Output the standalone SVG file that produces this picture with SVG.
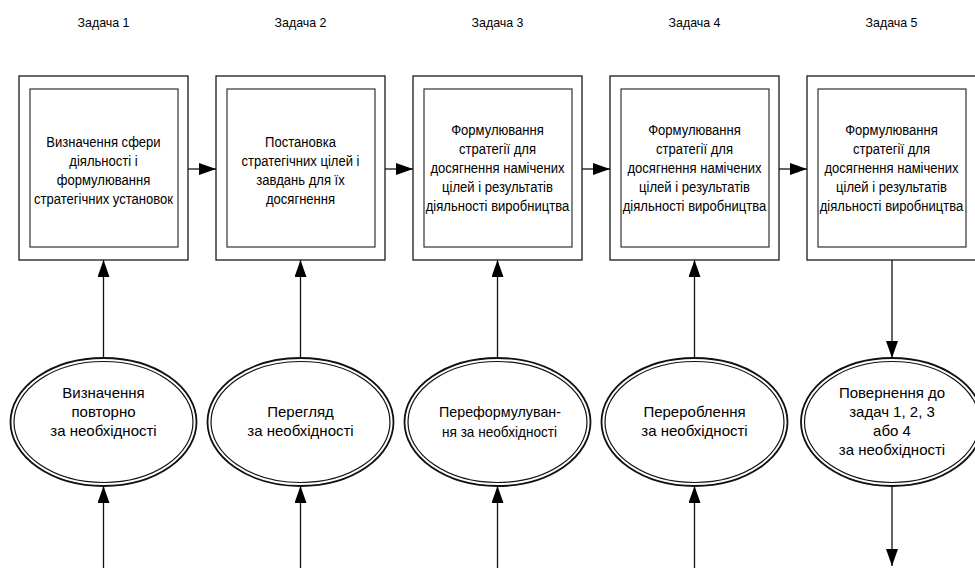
<svg xmlns="http://www.w3.org/2000/svg" width="975" height="568" viewBox="0 0 975 568">
<style>
.bg{fill:#fff}
.outer{fill:#fff;stroke:#1a1a1a;stroke-width:1.3}
.inner{fill:#fff;stroke:#333;stroke-width:1.2}
.eo{fill:#fff;stroke:#111;stroke-width:1.8}
.ei{fill:none;stroke:#111;stroke-width:1.2}
.lbl{font-family:"Liberation Sans",Arial,sans-serif;font-size:13.5px;fill:#000;text-anchor:middle}
.bt{font-family:"Liberation Sans",Arial,sans-serif;font-size:14.5px;fill:#000;text-anchor:middle}
.et{font-family:"Liberation Sans",Arial,sans-serif;font-size:15px;fill:#000;text-anchor:middle}
.c{stroke:#111;stroke-width:1.3;fill:none;marker-end:url(#ah)}
</style>
<defs>
<marker id="ah" markerUnits="userSpaceOnUse" markerWidth="18" markerHeight="12" refX="17" refY="6" orient="auto">
<path d="M0,0 L17,6 L0,12 Z" fill="#000"/>
</marker>
</defs>
<rect class="bg" x="0" y="0" width="975" height="568"/>

<g id="labels">
<text class="lbl" transform="translate(103.5,27) scale(0.92,1)">Задача 1</text>
<text class="lbl" transform="translate(300.5,27) scale(0.92,1)">Задача 2</text>
<text class="lbl" transform="translate(497.5,27) scale(0.92,1)">Задача 3</text>
<text class="lbl" transform="translate(694.5,27) scale(0.92,1)">Задача 4</text>
<text class="lbl" transform="translate(891.5,27) scale(0.92,1)">Задача 5</text>
</g>

<g id="box1">
<rect class="outer" x="19" y="76" width="169" height="184"/>
<rect class="inner" x="30" y="89" width="148" height="158"/>
<g transform="translate(103.5,0) scale(0.9,1)">
<text class="bt" x="0" y="147">Визначення сфери</text>
<text class="bt" x="0" y="166">діяльності і</text>
<text class="bt" x="0" y="185">формулювання</text>
<text class="bt" x="0" y="204">стратегічних установок</text>
</g>
</g>
<g id="box2">
<rect class="outer" x="216" y="76" width="169" height="184"/>
<rect class="inner" x="227" y="89" width="148" height="158"/>
<g transform="translate(300.5,0) scale(0.9,1)">
<text class="bt" x="0" y="147">Постановка</text>
<text class="bt" x="0" y="166">стратегічних цілей і</text>
<text class="bt" x="0" y="185">завдань для їх</text>
<text class="bt" x="0" y="204">досягнення</text>
</g>
</g>
<g id="box3">
<rect class="outer" x="413" y="76" width="169" height="184"/>
<rect class="inner" x="424" y="89" width="148" height="158"/>
<g transform="translate(497.5,0) scale(0.9,1)">
<text class="bt" x="0" y="135">Формулювання</text>
<text class="bt" x="0" y="154">стратегії для</text>
<text class="bt" x="0" y="173">досягнення намічених</text>
<text class="bt" x="0" y="192">цілей і результатів</text>
<text class="bt" x="0" y="211">діяльності виробництва</text>
</g>
</g>
<g id="box4">
<rect class="outer" x="610" y="76" width="169" height="184"/>
<rect class="inner" x="621" y="89" width="148" height="158"/>
<g transform="translate(694.5,0) scale(0.9,1)">
<text class="bt" x="0" y="135">Формулювання</text>
<text class="bt" x="0" y="154">стратегії для</text>
<text class="bt" x="0" y="173">досягнення намічених</text>
<text class="bt" x="0" y="192">цілей і результатів</text>
<text class="bt" x="0" y="211">діяльності виробництва</text>
</g>
</g>
<g id="box5">
<rect class="outer" x="807" y="76" width="169" height="184"/>
<rect class="inner" x="818" y="89" width="148" height="158"/>
<g transform="translate(891.5,0) scale(0.9,1)">
<text class="bt" x="0" y="135">Формулювання</text>
<text class="bt" x="0" y="154">стратегії для</text>
<text class="bt" x="0" y="173">досягнення намічених</text>
<text class="bt" x="0" y="192">цілей і результатів</text>
<text class="bt" x="0" y="211">діяльності виробництва</text>
</g>
</g>

<g id="ellipse1">
<ellipse class="eo" cx="103.5" cy="422" rx="93" ry="64"/>
<ellipse class="ei" cx="103.5" cy="422" rx="89.5" ry="60.5"/>
<text class="et" x="103.5" y="398">Визначення</text>
<text class="et" x="103.5" y="417">повторно</text>
<text class="et" x="103.5" y="436">за необхідності</text>
</g>
<g id="ellipse2">
<ellipse class="eo" cx="300.5" cy="422" rx="93" ry="64"/>
<ellipse class="ei" cx="300.5" cy="422" rx="89.5" ry="60.5"/>
<text class="et" x="300.5" y="417">Перегляд</text>
<text class="et" x="300.5" y="436">за необхідності</text>
</g>
<g id="ellipse3">
<ellipse class="eo" cx="497.5" cy="422" rx="93" ry="64"/>
<ellipse class="ei" cx="497.5" cy="422" rx="89.5" ry="60.5"/>
<text class="et" x="500" y="417" textLength="122" lengthAdjust="spacingAndGlyphs">Переформулуван-</text>
<text class="et" x="499.5" y="437" textLength="115" lengthAdjust="spacingAndGlyphs">ня за необхідності</text>
</g>
<g id="ellipse4">
<ellipse class="eo" cx="694.5" cy="422" rx="93" ry="64"/>
<ellipse class="ei" cx="694.5" cy="422" rx="89.5" ry="60.5"/>
<text class="et" x="694.5" y="417">Перероблення</text>
<text class="et" x="694.5" y="436">за необхідності</text>
</g>
<g id="ellipse5">
<ellipse class="eo" cx="892" cy="422" rx="91" ry="64"/>
<ellipse class="ei" cx="892" cy="422" rx="87.5" ry="60.5"/>
<text class="et" x="892" y="398">Повернення до</text>
<text class="et" x="892" y="417">задач 1, 2, 3</text>
<text class="et" x="892" y="436">або 4</text>
<text class="et" x="892" y="455">за необхідності</text>
</g>

<g id="connectors">
<line class="c" x1="188" y1="169" x2="216" y2="169"/>
<line class="c" x1="385" y1="169" x2="413" y2="169"/>
<line class="c" x1="582" y1="169" x2="610" y2="169"/>
<line class="c" x1="779" y1="169" x2="807" y2="169"/>
<line class="c" x1="103.5" y1="358" x2="103.5" y2="260"/>
<line class="c" x1="300.5" y1="358" x2="300.5" y2="260"/>
<line class="c" x1="497.5" y1="358" x2="497.5" y2="260"/>
<line class="c" x1="694.5" y1="358" x2="694.5" y2="260"/>
<line class="c" x1="892" y1="260" x2="892" y2="358"/>
<line class="c" x1="103.5" y1="568" x2="103.5" y2="486"/>
<line class="c" x1="300.5" y1="568" x2="300.5" y2="486"/>
<line class="c" x1="497.5" y1="568" x2="497.5" y2="486"/>
<line class="c" x1="694.5" y1="568" x2="694.5" y2="486"/>
<line class="c" x1="892" y1="486" x2="892" y2="566"/>
</g>
</svg>
